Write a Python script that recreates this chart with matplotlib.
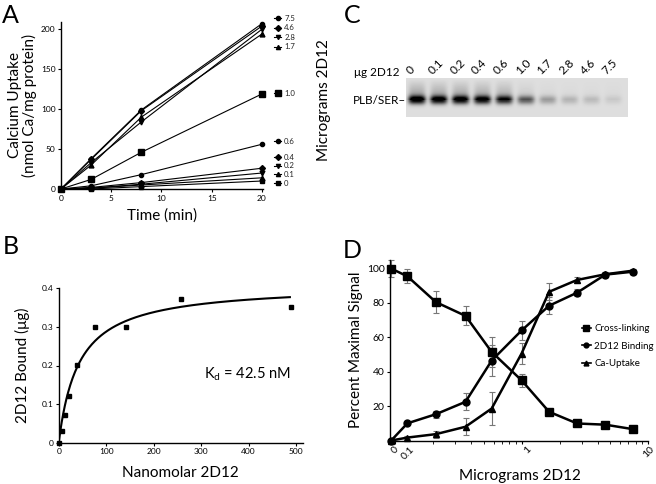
import numpy as np
import matplotlib
matplotlib.use('Agg')
import matplotlib.pyplot as plt
import matplotlib.transforms as mtrans
from matplotlib.lines import Line2D

plt.rcParams['font.family'] = ['Lato', 'DejaVu Sans']
plt.rcParams['mathtext.default'] = 'regular'

W, H = 656, 484

# ---- panel A: Ca uptake time course, one series per 2D12 dose ----
time_min = [0, 3, 8, 20]
a_doses = ['7.5', '4.6', '2.8', '1.7', '1.0', '0.6', '0.4', '0.2', '0.1', '0']
a_uptake = [
    [0, 38, 99, 207],
    [0, 37, 98, 204],
    [0, 33, 84, 200],
    [0, 30, 90, 194],
    [0, 12, 46, 119],
    [0, 4, 18, 56],
    [0, 2, 8, 26],
    [0, 1, 6, 20],
    [0, 1, 5, 14],
    [0, 0, 3, 10],
]
a_markers = ['o', 'D', 'v', '^', 's', 'o', 'D', 'v', '^', 's']
a_legend_y = [214, 202, 190, 178, 120, 59.5, 40, 29, 18.5, 7]   # label positions

# ---- panel B: binding curve ----
b_nm = [0, 7.6, 13.3, 22.4, 39.3, 77, 142, 258, 489]
b_bound = [0, 0.031, 0.072, 0.122, 0.201, 0.30, 0.30, 0.371, 0.352]
b_kd = 42.5
b_bmax = 0.41

# ---- panel C: gel ----
c_lanes = ['0', '0.1', '0.2', '0.4', '0.6', '1.0', '1.7', '2.8', '4.6', '7.5']
c_band = [1.0, 0.95, 0.95, 0.92, 0.82, 0.55, 0.27, 0.17, 0.14, 0.08]
c_smear = [0.30, 0.27, 0.27, 0.25, 0.22, 0.08, 0.03, 0.02, 0.02, 0.02]

# ---- panel D: percent maximal signal ----
d_dose = [0, 0.125, 0.21, 0.36, 0.58, 1.0, 1.65, 2.75, 4.6, 7.6]
d_cross = [100, 95.5, 80.5, 72.5, 51.5, 35, 16.7, 9.9, 9.2, 6.6]
d_cross_err = [5, 4, 6.5, 5.5, 8.5, 3.7, 1.5, 1.2, 1, 1]
d_bind = [0, 10, 15.3, 22.5, 46.5, 64, 78.4, 86, 96.5, 98.2]
d_bind_err = [0, 1, 2, 5, 9, 5.3, 5, 2, 1.5, 1]
d_ca = [0, 1.7, 3.7, 8, 18.6, 50.6, 86.5, 93.4, 96.7, 98.8]
d_ca_err = [0, 1, 2, 5, 9.5, 6, 5, 2, 1, 1]
d_xticks = [0.093, 0.1, 1, 10]
d_xticklabels = ['0', '0.1', '1', '10']
ZERO_POS = 0.093

fig = plt.figure(figsize=(W / 100, H / 100), dpi=100)


def add_ax(l, t, r, b):
    return fig.add_axes([l / W, 1 - b / H, (r - l) / W, (b - t) / H])


def style(ax, fs):
    for s in ['top', 'right']:
        ax.spines[s].set_visible(False)
    for s in ['left', 'bottom']:
        ax.spines[s].set_linewidth(1.0)
    ax.tick_params(direction='out', length=2.5, width=0.8, labelsize=fs, pad=1.5)


# panel letters
for letter, (px, py) in zip('ABCD', [(2, 23), (3, 254), (344, 23), (343, 258)]):
    fig.text(px / W, 1 - py / H, letter, fontsize=18, va='baseline', ha='left')

# ===== A =====
axA = add_ax(61, 22, 263, 189)
style(axA, 6)
for vals, mk in zip(a_uptake, a_markers):
    ms = 3 if mk in ('D', 'o') else 3.5
    if vals[-1] > 100 and mk == 's':
        ms = 4.5
    axA.plot(time_min, vals, color='black', lw=0.8, marker=mk, ms=ms, clip_on=False)
for lab, ly, mk in zip(a_doses, a_legend_y, a_markers):
    axA.plot([21.2, 21.9], [ly, ly], color='black', lw=0.8, clip_on=False)
    axA.plot([21.55], [ly], color='black', marker=mk, ms=3 if lab != '1.0' else 4.5,
             clip_on=False)
    axA.text(22.2, ly, lab, fontsize=5.6, va='center', ha='left', color='#222222')
axA.set_xlim(0, 20.1)
axA.set_ylim(0, 209)
axA.set_xticks([0, 5, 10, 15, 20])
axA.set_yticks([0, 50, 100, 150, 200])
axA.set_xlabel('Time (min)', fontsize=11, labelpad=5)
axA.set_ylabel('Calcium Uptake\n(nmol Ca/mg protein)', fontsize=11, labelpad=3,
               linespacing=1.0)
fig.text(324 / W, 1 - 100 / H, 'Micrograms 2D12', rotation=90, fontsize=11,
         ha='center', va='center')

# ===== B =====
axB = add_ax(58.7, 288.3, 302.7, 442.7)
style(axB, 6)
xs = np.linspace(0, 487, 300)
axB.plot(xs, b_bmax * xs / (b_kd + xs), color='black', lw=1.5)
axB.plot(b_nm, b_bound, 's', color='black', ms=3.5, clip_on=False)
axB.set_xlim(0, 514)
axB.set_ylim(0, 0.4)
axB.set_xticks([0, 100, 200, 300, 400, 500])
axB.set_yticks([0, 0.1, 0.2, 0.3, 0.4])
axB.set_yticklabels(['0', '0.1', '0.2', '0.3', '0.4'])
axB.set_xlabel('Nanomolar 2D12', fontsize=11, labelpad=8)
axB.set_ylabel('2D12 Bound (μg)', fontsize=11, labelpad=8)
fig.text(247 / W, 1 - 374 / H, 'K$_{d}$ = 42.5 nM', fontsize=10.5,
         ha='center', va='center')

# ===== C =====
gel_l, gel_t, gel_r, gel_b = 406, 78, 628, 117
axC = add_ax(gel_l, gel_t, gel_r, gel_b)
nx, ny = gel_r - gel_l, gel_b - gel_t
gx, gy = np.meshgrid(np.arange(nx) + 0.5, np.arange(ny) + 0.5)
lane_x = [11 + 21.8 * i for i in range(len(c_lanes))]
dark = np.zeros_like(gx)
for cx, band, smear in zip(lane_x, c_band, c_smear):
    wprof = np.exp(-(np.abs(gx - cx) / 8.5) ** 4)
    dark += band * wprof * np.exp(-((gy - 22) / 4.2) ** 2)
    ramp = np.clip((gy - 1) / 18.0, 0, 1) * (gy < 22)
    dark += smear * wprof * ramp
gel = np.clip(0.87 - 0.9 * dark, 0, 1)
axC.imshow(gel, cmap='gray', vmin=0, vmax=1, aspect='auto', interpolation='bilinear',
           extent=[0, nx, ny, 0])
axC.axis('off')
for cx, lab in zip(lane_x, c_lanes):
    fig.text((gel_l + cx - 5) / W, 1 - 76 / H, lab, rotation=45, fontsize=8.5,
             ha='left', va='bottom', rotation_mode='anchor')
fig.text(377 / W, 1 - 72 / H, 'μg 2D12', fontsize=8.5, ha='center', va='center')
fig.text(406 / W, 1 - 100 / H, 'PLB/SER\u2013', fontsize=8.5, ha='right', va='center')

# ===== D =====
axD = add_ax(390, 260, 648, 440.5)
style(axD, 7.5)
axD.set_xscale('log')
xpos = [ZERO_POS if d == 0 else d for d in d_dose]
ebk = dict(ecolor='#777777', elinewidth=0.8, capsize=2, capthick=0.8)
axD.errorbar(xpos, d_cross, yerr=d_cross_err, color='black', lw=1.8, marker='s',
             ms=5.5, clip_on=False, **ebk)
axD.errorbar(xpos, d_bind, yerr=d_bind_err, color='black', lw=1.8, marker='o',
             ms=5, clip_on=False, **ebk)
axD.errorbar(xpos, d_ca, yerr=d_ca_err, color='black', lw=1.8, marker='^',
             ms=5, clip_on=False, **ebk)
axD.set_xlim(0.091, 10)
axD.set_ylim(0, 105)
axD.set_yticks([20, 40, 60, 80, 100])
axD.set_xticks(d_xticks)
axD.set_xticklabels([])
axD.set_xticks([k * 10.0 ** e for e in (-1, 0) for k in range(2, 10)], minor=True)
axD.xaxis.set_minor_formatter(plt.NullFormatter())
axD.tick_params(axis='x', which='minor', length=2, width=0.6)
# rotated tick labels, nudged like the original
xtrans = mtrans.blended_transform_factory(axD.transData, axD.transAxes)
for xv, lab, dx in zip(d_xticks, d_xticklabels, [3, 15, 5, 2]):
    tr = mtrans.offset_copy(xtrans, fig=fig, x=dx, y=-4, units='dots')
    axD.text(xv, 0, lab, transform=tr, rotation=45, rotation_mode='anchor',
             ha='right', va='top', fontsize=7.5)
# axis break marks
for yb in (0, 100):
    axD.text(0.0965, yb, '/', fontsize=6, ha='center', va='center')
fig.text(520 / W, 1 - 476 / H, 'Micrograms 2D12', fontsize=11, ha='center',
         va='center')
axD.set_ylabel('Percent Maximal Signal', fontsize=11, labelpad=3)
handles = [Line2D([], [], color='black', lw=1.2, marker=m, ms=ms)
           for m, ms in [('s', 4), ('o', 3.5), ('^', 3.5)]]
fig.legend(handles, ['Cross-linking', '2D12 Binding', 'Ca-Uptake'],
           loc='upper left', bbox_to_anchor=(582 / W, 1 - 324 / H), frameon=False,
           fontsize=7, handlelength=0.9, handletextpad=0.35, labelspacing=0.9,
           borderpad=0, borderaxespad=0)

fig.savefig('out.png', dpi=100)
